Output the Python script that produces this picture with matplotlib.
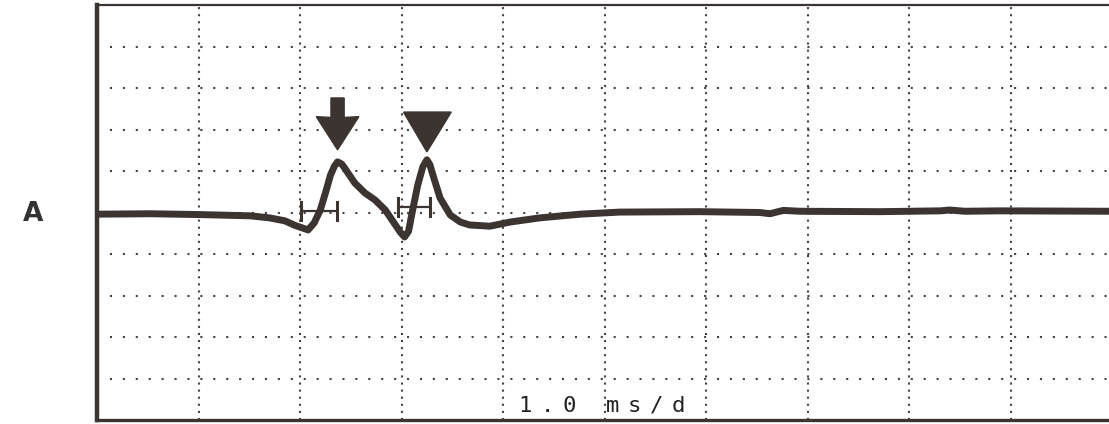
import numpy as np
import matplotlib.pyplot as plt
from matplotlib.patches import Polygon

# trace: time in ms (1.0 ms/div), amplitude in divisions
time_ms = [0.00, 0.52, 1.01, 1.51, 1.70, 1.85, 1.95, 2.08, 2.14, 2.20, 2.26, 2.30,
           2.34, 2.37, 2.41, 2.44, 2.54, 2.64, 2.74, 2.84, 2.94, 2.99, 3.03, 3.07,
           3.10, 3.16, 3.21, 3.25, 3.28, 3.31, 3.38, 3.48, 3.58, 3.67, 3.87, 4.07,
           4.36, 4.76, 5.15, 5.94, 6.53, 6.63, 6.76, 6.93, 7.71, 8.31, 8.40, 8.55,
           8.90, 10.0]
amp_div = [-0.04, -0.03, -0.05, -0.08, -0.13, -0.20, -0.31, -0.42, -0.25, 0.06, 0.55, 0.90,
           1.12, 1.22, 1.17, 1.07, 0.71, 0.47, 0.30, 0.06, -0.30, -0.48, -0.59, -0.45,
           -0.06, 0.66, 1.10, 1.27, 1.15, 0.90, 0.35, -0.06, -0.23, -0.30, -0.33, -0.23,
           -0.13, -0.04, 0.01, 0.02, 0.00, -0.03, 0.05, 0.03, 0.02, 0.04, 0.06, 0.03,
           0.04, 0.03]

# peak markers (arrow tips) and latency brackets
arrow_x = [2.37, 3.25]
arrow_tip = [1.51, 1.46]
bracket_x0 = [2.01, 2.97]
bracket_x1 = [2.36, 3.28]
bracket_y = [0.04, 0.13]

label = "1.0 ms/d"
ink = '#3b3431'

fig = plt.figure(figsize=(11.09, 4.24), dpi=100)
ax = fig.add_axes([97 / 1109, 4 / 424, 1015 / 1109, 415 / 424])
ax.set_xlim(0, 10)
ax.set_ylim(-5, 5)
ax.set_xticks([])
ax.set_yticks([])
for side, lw in [('left', 3.2), ('top', 1.6), ('bottom', 2.4), ('right', 2.4)]:
    ax.spines[side].set_linewidth(lw)
    ax.spines[side].set_color(ink)

# dotted graticule
for xv in range(1, 10):
    ax.axvline(xv, color='#444444', lw=1.5, dashes=(1, 2.4), dash_capstyle='butt', zorder=1)
for yv in range(-4, 5):
    ax.axhline(yv, color='#444444', lw=1.5, dashes=(1, 5.2), dash_capstyle='butt', zorder=1)

ax.plot(time_ms, amp_div, color=ink, lw=5.0, solid_joinstyle='round',
        solid_capstyle='round', zorder=3)

# first marker: arrow with shaft, second: plain triangle
xa, ta = arrow_x[0], arrow_tip[0]
ax.add_patch(Polygon([[xa - 0.065, ta + 1.25], [xa - 0.065, ta + 0.78], [xa - 0.21, ta + 0.8],
                      [xa, ta], [xa + 0.21, ta + 0.8], [xa + 0.065, ta + 0.78],
                      [xa + 0.065, ta + 1.25]], closed=True, color=ink, zorder=4))
xb, tb = arrow_x[1], arrow_tip[1]
ax.add_patch(Polygon([[xb - 0.23, tb + 0.96], [xb + 0.24, tb + 0.96], [xb, tb]],
                     closed=True, color=ink, zorder=4))

for x0, x1, yb in zip(bracket_x0, bracket_x1, bracket_y):
    ax.plot([x0, x1], [yb, yb], color=ink, lw=1.6, zorder=4)
    ax.plot([x0, x0], [yb - 0.22, yb + 0.22], color=ink, lw=2.2, zorder=4)
    ax.plot([x1, x1], [yb - 0.22, yb + 0.22], color=ink, lw=2.2, zorder=4)

# sweep-speed label, wide character pitch as on the screen
for i, ch in enumerate(label):
    ax.text(4.22 + i * 0.215, -4.8, ch, fontsize=16, family='DejaVu Sans Mono',
            color='#222222', ha='center', va='baseline', zorder=5)

fig.text(33 / 1109, 1 - 214 / 424, 'A', fontsize=19, fontweight='heavy',
         color='#333333', ha='center', va='center')

fig.savefig('out.png', dpi=100)
